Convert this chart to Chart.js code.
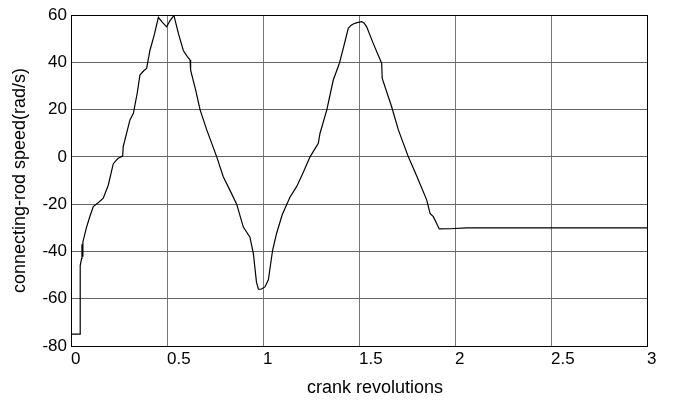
<!DOCTYPE html>
<html>
<head>
<meta charset="utf-8">
<script src="https://cdn.jsdelivr.net/npm/chart.js@4"></script>
<style>
  html, body { margin: 0; padding: 0; background: #fff; }
  #wrap { width: 681px; height: 401px; }
</style>
</head>
<body>
<div id="wrap"><canvas id="myChart" width="681" height="401"></canvas></div>
<script>
// crank position (revolutions) and connecting-rod angular speed (rad/s)
const revolutions = [
  0, 0.047, 0.048, 0.055, 0.057, 0.058, 0.062, 0.08, 0.099, 0.116,
  0.14, 0.168, 0.18, 0.194, 0.22, 0.235, 0.246, 0.269, 0.272, 0.307,
  0.325, 0.345, 0.359, 0.38, 0.394, 0.411, 0.435, 0.455, 0.475, 0.498,
  0.515, 0.536, 0.56, 0.585, 0.605, 0.62, 0.623, 0.65, 0.672, 0.707,
  0.759, 0.793, 0.83, 0.863, 0.897, 0.932, 0.95, 0.958, 0.966, 0.976,
  0.99, 1.01, 1.028, 1.05, 1.071, 1.1, 1.141, 1.175, 1.21, 1.245,
  1.288, 1.297, 1.332, 1.366, 1.398, 1.42, 1.444, 1.458, 1.47, 1.49,
  1.514, 1.527, 1.54, 1.574, 1.618, 1.621, 1.67, 1.705, 1.757, 1.8,
  1.853, 1.87, 1.887, 1.918, 1.974, 2.06, 3
];
const rodSpeed = [
  -75, -75, -46, -43, -37, -42, -36, -30, -25, -21,
  -19.5, -17.5, -15, -12, -3, -1.5, -0.6, 0.3, 4.3, 15.6,
  18.4, 27, 34.6, 36.5, 37.4, 45, 52, 59, 57, 55,
  57.5, 59.8, 52, 45, 42.5, 41, 36.7, 28, 20, 11.4,
  0, -8.4, -14.5, -20, -29.6, -34, -41, -47, -53, -56,
  -56, -55, -52, -39.5, -32.3, -24.5, -17, -12.6, -6.5, 0,
  5.7, 10, 19.8, 32.5, 39.6, 46.5, 54.4, 55.6, 56.2, 56.8,
  57.2, 56.5, 55, 48, 39.6, 33.2, 21.2, 11.4, 0, -8,
  -18.3, -23.9, -25.3, -30.5, -30.4, -30, -30
];
const xTicks = [0, 0.5, 1, 1.5, 2, 2.5, 3];
const yTicks = [-80, -60, -40, -20, 0, 20, 40, 60];

const FONT = 'Liberation Sans, Arial, sans-serif';

// black frame around the plot plus the two axis titles
const framePlugin = {
  id: 'frame',
  afterDraw(chart) {
    const { ctx, chartArea: a } = chart;
    ctx.save();
    ctx.strokeStyle = '#000';
    ctx.lineWidth = 1;
    ctx.strokeRect(Math.round(a.left) + 0.5, Math.round(a.top) + 0.5,
      Math.round(a.right - a.left), Math.round(a.bottom - a.top));
    ctx.fillStyle = '#000';
    ctx.font = '18px ' + FONT;
    ctx.textAlign = 'center';
    ctx.textBaseline = 'middle';
    ctx.fillText('crank revolutions', (a.left + a.right) / 2 + 16, 388);
    ctx.translate(20, (a.top + a.bottom) / 2);
    ctx.rotate(-Math.PI / 2);
    ctx.fillText('connecting-rod speed(rad/s)', 0, 0);
    ctx.restore();
  }
};

const ctx = document.getElementById('myChart').getContext('2d');

const config = {
  type: 'line',
  data: {
    datasets: [{
      data: revolutions.map((r, i) => ({ x: r, y: rodSpeed[i] })),
      borderColor: '#000',
      borderWidth: 1.2,
      pointRadius: 0,
      tension: 0,
      fill: false
    }]
  },
  options: {
    responsive: false,
    animation: false,
    layout: { padding: { top: 15, right: 34, left: 0, bottom: 0 } },
    plugins: {
      legend: { display: false },
      tooltip: { enabled: false }
    },
    scales: {
      x: {
        type: 'linear',
        min: 0,
        max: 3,
        afterBuildTicks: (s) => { s.ticks = xTicks.map(v => ({ value: v })); },
        afterFit: (s) => { s.height = 401 - 346; },
        grid: { color: '#777', lineWidth: 1, drawTicks: false },
        border: { color: '#000' },
        ticks: {
          color: '#000',
          font: { family: FONT, size: 17 },
          padding: 3,
          align: 'start',
          maxRotation: 0,
          callback: (v) => String(v)
        }
      },
      y: {
        min: -80,
        max: 60,
        afterBuildTicks: (s) => { s.ticks = yTicks.map(v => ({ value: v })); },
        afterFit: (s) => { s.width = 71; },
        grid: { color: '#666', lineWidth: 1, drawTicks: false },
        border: { color: '#000' },
        ticks: {
          color: '#000',
          font: { family: FONT, size: 17 },
          padding: 4,
          callback: (v) => String(v)
        }
      }
    }
  },
  plugins: [framePlugin]
};

const myChart = new Chart(ctx, config);
</script>
</body>
</html>
